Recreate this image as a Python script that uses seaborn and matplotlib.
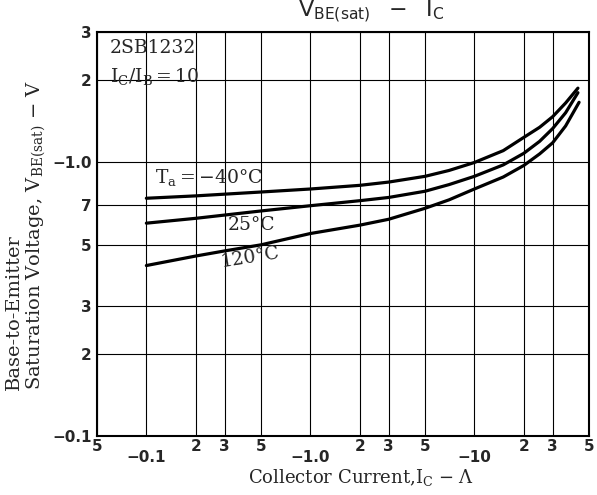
import numpy as np
import pandas as pd
import matplotlib
matplotlib.use("Agg")
import matplotlib.pyplot as plt
import seaborn as sns

# ---- data ----
temps = ["-40°C", "25°C", "120°C"]
ic_m40 = [0.1, 0.2, 0.5, 1, 2, 3, 5, 7, 10, 15, 20, 25, 30, 36, 42.8]
vbe_m40 = [0.74, 0.755, 0.78, 0.80, 0.825, 0.848, 0.89, 0.935, 1.0, 1.105, 1.235, 1.345, 1.47, 1.65, 1.87]
ic_25 = [0.1, 0.2, 0.5, 1, 2, 3, 5, 7, 10, 15, 20, 25, 30, 36, 42.8]
vbe_25 = [0.60, 0.625, 0.665, 0.695, 0.725, 0.745, 0.785, 0.83, 0.89, 0.98, 1.08, 1.195, 1.33, 1.52, 1.80]
ic_120 = [0.1, 0.2, 0.3, 0.5, 1, 2, 3, 5, 7, 10, 15, 20, 25, 30, 36, 43.5]
vbe_120 = [0.42, 0.455, 0.475, 0.50, 0.55, 0.59, 0.62, 0.68, 0.73, 0.80, 0.885, 0.975, 1.075, 1.18, 1.36, 1.66]

x_major = [0.1, 1, 10]
x_major_labels = ["−0.1", "−1.0", "−10"]
x_minor = [0.05, 0.2, 0.3, 0.5, 2, 3, 5, 20, 30, 50]
x_minor_labels = ["5", "2", "3", "5", "2", "3", "5", "2", "3", "5"]
y_major = [0.1, 1.0]
y_major_labels = ["−0.1", "−1.0"]
y_minor = [0.2, 0.3, 0.5, 0.7, 2, 3]
y_minor_labels = ["2", "3", "5", "7", "2", "3"]

df = pd.concat([
    pd.DataFrame({"ic": ic_m40, "vbe": vbe_m40, "temp": temps[0]}),
    pd.DataFrame({"ic": ic_25, "vbe": vbe_25, "temp": temps[1]}),
    pd.DataFrame({"ic": ic_120, "vbe": vbe_120, "temp": temps[2]}),
], ignore_index=True)

sns.set_style("white")
plt.rcParams["font.family"] = ["DejaVu Sans"]
plt.rcParams["mathtext.fontset"] = "custom"
plt.rcParams["mathtext.rm"] = "DejaVu Serif"
plt.rcParams["mathtext.it"] = "DejaVu Serif:italic"
plt.rcParams["mathtext.sf"] = "DejaVu Sans"

fig = plt.figure(figsize=(5.97, 4.95), dpi=100)
ax = fig.add_axes([97 / 597, 1 - 436 / 495, 492 / 597, 404 / 495])

sns.lineplot(data=df, x="ic", y="vbe", hue="temp", palette=["black"] * 3,
             legend=False, lw=2.3, sort=False, estimator=None, ax=ax)

ax.set_xscale("log")
ax.set_yscale("log")
ax.set_xlim(0.05, 50)
ax.set_ylim(0.1, 3)

ax.set_xticks(x_major, labels=x_major_labels)
ax.set_xticks(x_minor, labels=x_minor_labels, minor=True)
ax.set_yticks(y_major, labels=y_major_labels)
ax.set_yticks(y_minor, labels=y_minor_labels, minor=True)
ax.tick_params(which="both", length=0)
ax.tick_params(axis="x", which="major", pad=10, labelsize=11)
ax.tick_params(axis="x", which="minor", pad=2, labelsize=11)
ax.tick_params(axis="y", which="both", pad=4, labelsize=11)
for lab in ax.get_xticklabels(which="both") + ax.get_yticklabels(which="both"):
    lab.set_fontweight("bold")

ax.grid(which="both", color="black", lw=0.8)
for s in ax.spines.values():
    s.set_color("black")
    s.set_linewidth(1.5)
ax.set_xlabel("")
ax.set_ylabel("")

serif = "DejaVu Serif"
ax.text(0.026, 0.960, "2SB1232", transform=ax.transAxes, family=serif,
        fontsize=13.5, va="center", ha="left")
ax.text(0.026, 0.891, r"$\mathrm{I_C/I_B = 10}$", transform=ax.transAxes,
        fontsize=13.5, va="center", ha="left")
ax.text(0.118, 0.639, r"$\mathrm{T_a = -40°C}$", transform=ax.transAxes,
        fontsize=13.5, va="center", ha="left")
ax.text(0.315, 0.522, "25°C", transform=ax.transAxes, family=serif,
        fontsize=13.5, va="center", ha="center")
ax.text(0.311, 0.441, "120°C", transform=ax.transAxes, family=serif,
        fontsize=13.5, va="center", ha="center", rotation=9)

fig.text(371 / 597, 1 - 12 / 495, r"$\mathsf{V_{BE(sat)}\ \ -\ \ I_C}$",
         fontsize=16, ha="center", va="center")
fig.text(361 / 597, 1 - 477 / 495, r"Collector Current,$\mathrm{I_C}$ − Λ",
         family=serif, fontsize=13, ha="center", va="center")
fig.text(14 / 597, 1 - 390 / 495, "Base-to-Emitter", family=serif,
         fontsize=14, rotation=90, ha="center", va="bottom")
fig.text(36 / 597, 1 - 390 / 495, r"Saturation Voltage, $\mathrm{V_{BE(sat)}}$ − V",
         family=serif, fontsize=14, rotation=90, ha="center", va="bottom")

fig.savefig("out.png", dpi=100)
